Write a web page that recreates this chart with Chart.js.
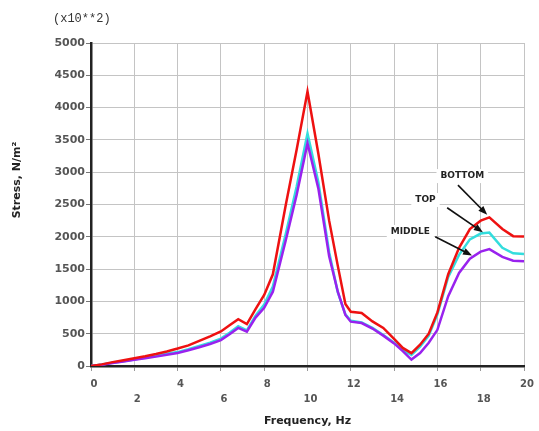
<!DOCTYPE html>
<html>
<head>
<meta charset="utf-8">
<script src="https://cdn.jsdelivr.net/npm/chart.js@4.4.1/dist/chart.umd.min.js"></script>
<style>
  html, body { margin: 0; padding: 0; background: #fff; }
  #wrap { width: 539px; height: 431px; position: relative; }
</style>
</head>
<body>
<div id="wrap"><canvas id="chart"></canvas></div>
<script>
// ---- data ----
const freq = [0, 0.5, 1, 1.5, 2, 2.5, 3, 3.5, 4, 4.5, 5, 5.5, 6, 6.4, 6.8, 7.2, 7.6, 8, 8.4, 9, 9.5, 10, 10.5, 11, 11.4, 11.75, 12, 12.5, 13, 13.5, 14, 14.4, 14.8, 15.2, 15.6, 16, 16.5, 17, 17.5, 18, 18.4, 19, 19.5, 20];
const bottom = [0, 25, 60, 90, 120, 150, 185, 225, 270, 320, 390, 460, 535, 630, 725, 650, 880, 1100, 1420, 2500, 3350, 4250, 3290, 2250, 1550, 960, 840, 820, 690, 590, 420, 280, 200, 330, 500, 830, 1420, 1830, 2120, 2250, 2300, 2120, 2010, 2005];
const top_ = [0, 22, 50, 75, 100, 130, 160, 190, 215, 260, 310, 360, 425, 515, 615, 550, 780, 950, 1230, 2050, 2780, 3600, 2850, 1760, 1140, 800, 700, 675, 590, 480, 360, 250, 170, 300, 470, 800, 1380, 1720, 1960, 2050, 2065, 1830, 1745, 1735];
const middle = [0, 20, 45, 70, 95, 120, 145, 175, 200, 245, 290, 340, 400, 490, 590, 530, 750, 900, 1150, 1950, 2650, 3450, 2750, 1700, 1150, 790, 686, 665, 580, 470, 350, 230, 100, 200, 360, 560, 1080, 1440, 1660, 1770, 1810, 1690, 1630, 1620];
const seriesNames = ['BOTTOM', 'TOP', 'MIDDLE'];
const xTicks = [0, 2, 4, 6, 8, 10, 12, 14, 16, 18, 20];

const pts = (ys) => freq.map((f, i) => ({ x: f, y: ys[i] }));

// callouts placed in data units (label centre, arrow tail, arrow head)
const callouts = [
    { text: seriesNames[0], lx: 17.15, ly: 2940, tx: 16.95, ty: 2800, hx: 18.3, hy: 2340 },
    { text: seriesNames[1], lx: 15.45, ly: 2570, tx: 16.45, ty: 2450, hx: 18.1, hy: 2070 },
    { text: seriesNames[2], lx: 14.75, ly: 2075, tx: 15.9, ty: 2000, hx: 17.6, hy: 1710 }
];

const FONT = "'DejaVu Sans', Verdana, sans-serif";

const extras = {
    id: 'extras',
    afterDatasetsDraw(chart) {
        const { ctx, chartArea, scales: { x, y } } = chart;
        ctx.save();
        // multiplier note
        ctx.font = "12px 'Liberation Mono', 'Courier New', monospace";
        ctx.fillStyle = '#333';
        ctx.textAlign = 'left';
        ctx.textBaseline = 'middle';
        ctx.fillText('(x10**2)', chartArea.left - 38, chartArea.top - 24);

        // y title (sits above centre in the original)
        ctx.save();
        ctx.translate(chartArea.left - 74, chartArea.top + 137);
        ctx.rotate(-Math.PI / 2);
        ctx.font = 'bold 11px ' + FONT;
        ctx.fillStyle = '#222';
        ctx.textAlign = 'center';
        ctx.fillText('Stress, N/m²', 0, 0);
        ctx.restore();

        // callouts
        ctx.font = 'bold 9px ' + FONT;
        callouts.forEach(c => {
            const lx = x.getPixelForValue(c.lx), ly = y.getPixelForValue(c.ly);
            const w = ctx.measureText(c.text).width;
            ctx.fillStyle = '#fff';
            ctx.fillRect(lx - w / 2 - 4, ly - 7, w + 8, 14);
            ctx.fillStyle = '#222';
            ctx.textAlign = 'center';
            ctx.fillText(c.text, lx, ly);

            const x0 = x.getPixelForValue(c.tx), y0 = y.getPixelForValue(c.ty);
            const x1 = x.getPixelForValue(c.hx), y1 = y.getPixelForValue(c.hy);
            const a = Math.atan2(y1 - y0, x1 - x0);
            ctx.strokeStyle = '#111';
            ctx.lineWidth = 1.6;
            ctx.beginPath();
            ctx.moveTo(x0, y0);
            ctx.lineTo(x1 - 6 * Math.cos(a), y1 - 6 * Math.sin(a));
            ctx.stroke();
            ctx.fillStyle = '#111';
            ctx.beginPath();
            ctx.moveTo(x1, y1);
            ctx.lineTo(x1 - 9 * Math.cos(a) + 3.5 * Math.sin(a), y1 - 9 * Math.sin(a) - 3.5 * Math.cos(a));
            ctx.lineTo(x1 - 9 * Math.cos(a) - 3.5 * Math.sin(a), y1 - 9 * Math.sin(a) + 3.5 * Math.cos(a));
            ctx.closePath();
            ctx.fill();
        });
        ctx.restore();
    }
};

new Chart(document.getElementById('chart'), {
    type: 'line',
    data: {
        datasets: [
            { label: seriesNames[0], data: pts(bottom), borderColor: '#ee1111', borderWidth: 2.5 },
            { label: seriesNames[2], data: pts(middle), borderColor: '#9922ee', borderWidth: 2.5 },
            { label: seriesNames[1], data: pts(top_), borderColor: '#33dddd', borderWidth: 2.5 }
        ]
    },
    options: {
        responsive: true,
        maintainAspectRatio: false,
        animation: false,
        elements: { point: { radius: 0 }, line: { tension: 0, fill: false } },
        layout: { padding: { top: 43, right: 15, left: 0, bottom: 0 } },
        plugins: { legend: { display: false }, tooltip: { enabled: false } },
        scales: {
            x: {
                type: 'linear', min: 0, max: 20,
                afterBuildTicks: (s) => { s.ticks = xTicks.map(v => ({ value: v })); },
                afterFit: (s) => { s.height = 65; },
                grid: { color: '#c4c4c4', lineWidth: 1, tickLength: 5, tickColor: '#999' },
                border: { color: '#222', width: 2.5 },
                ticks: {
                    autoSkip: false, maxRotation: 0, padding: 6, labelOffset: 3,
                    color: '#555',
                    font: { family: FONT, size: 10, weight: 'bold', lineHeight: 1.5 },
                    callback: (v, i) => (i % 2 === 0 ? String(v) : ['', String(v)])
                },
                title: {
                    display: true, text: 'Frequency, Hz', color: '#222',
                    font: { family: FONT, size: 11, weight: 'bold' },
                    padding: { top: 0, bottom: 3 }
                }
            },
            y: {
                min: 0, max: 5000,
                ticks: {
                    stepSize: 500, padding: 1, color: '#555',
                    font: { family: FONT, size: 11, weight: 'bold' },
                    callback: (v) => String(v)
                },
                afterFit: (s) => { s.width = 91; },
                grid: { color: '#c4c4c4', lineWidth: 1, tickLength: 5, tickColor: '#777' },
                border: { color: '#222', width: 2.5 }
            }
        }
    },
    plugins: [extras]
});
</script>
</body>
</html>
